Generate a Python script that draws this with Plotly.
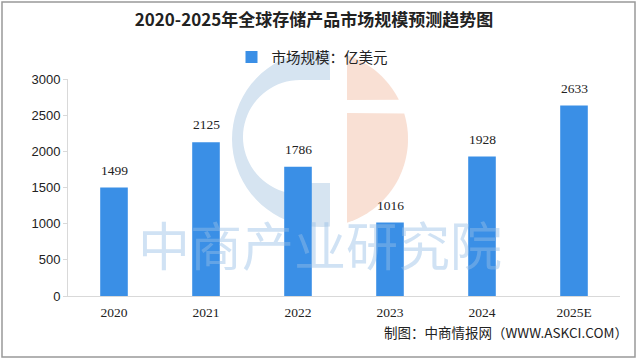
import math
import plotly.graph_objects as go

categories = ["2020", "2021", "2022", "2023", "2024", "2025E"]
values = [1499, 2125, 1786, 1016, 1928, 2633]
y_ticks = [0, 500, 1000, 1500, 2000, 2500, 3000]

title_text = "2020-2025年全球存储产品市场规模预测趋势图"
series_name = "市场规模：亿美元"
source_text = "制图：中商情报网（WWW.ASKCI.COM）"
watermark_text = "中商产业研究院"

bar_color = "#3a8fe6"

# plot area in pixels
L, R, T, B = 68, 620, 79, 296
W, H = R - L, B - T


def px(x):
    return (x - L) / W


def py(y):
    return (B - y) / H


fig = go.Figure()
fig.add_trace(go.Bar(
    x=categories, y=values, name=series_name,
    marker=dict(color=bar_color, line=dict(width=0)),
    width=0.3,
))

# value labels above bars (category index positions)
for i, v in enumerate(values):
    fig.add_annotation(x=i, y=v, text=str(v), showarrow=False, yanchor="bottom", yshift=8,
                       font=dict(family="Liberation Serif, serif", size=13.5, color="#222"))

fig.update_layout(
    width=640, height=361,
    paper_bgcolor="white", plot_bgcolor="rgba(0,0,0,0)",
    margin=dict(l=L, r=640 - R, t=T, b=361 - B, autoexpand=False),
    title=dict(text="<b>" + title_text + "</b>", x=314 / 640, xref="container", xanchor="center",
               y=1 - 20 / 361, yref="container", yanchor="middle",
               font=dict(family="Noto Sans CJK SC", size=17, color="#222")),
    showlegend=True,
    legend=dict(orientation="h", x=px(312), xanchor="center", y=py(57), yanchor="middle",
                font=dict(family="Noto Sans CJK SC", size=14.5, color="#222"),
                bgcolor="rgba(0,0,0,0)", itemwidth=30),
    bargap=0.7,
    xaxis=dict(type="category", range=[-0.5, len(categories) - 0.5],
               showgrid=False, showline=True, linecolor="#d9d9d9", linewidth=1,
               ticks="", ticklabelstandoff=4,
               tickfont=dict(family="Liberation Serif, serif", size=13.5, color="#222")),
    yaxis=dict(range=[0, 3000], tickvals=y_ticks, showgrid=False, showline=True,
               linecolor="#d9d9d9", linewidth=1, ticks="outside", ticklen=4, tickcolor="#d9d9d9",
               tickfont=dict(family="Liberation Sans, Arial", size=13, color="#222"), zeroline=False),
)

# ---- watermark logo (decoration) ----
cx, cy, r = 320, 139, 88


def arc(cx_, cy_, r_, a0, a1, n=40):
    pts = []
    for k in range(n + 1):
        a = math.radians(a0 + (a1 - a0) * k / n)
        pts.append((cx_ + r_ * math.cos(a), cy_ - r_ * math.sin(a)))
    return pts


def path_from(pts):
    return "M " + " L ".join(f"{px(x):.4f},{py(y):.4f}" for x, y in pts) + " Z"


# blue C
blue_right = 330
a_top = math.degrees(math.acos((blue_right - cx) / r))
outer = arc(cx, cy, r, a_top, 360 - a_top)
hcx, hcy, hr = 300, 137, 57
inner = arc(hcx, hcy, hr, 270, 90)
blue_pts = outer + [(blue_right, 183), (hcx, 183)] + inner + [(blue_right, hcy - hr)]
fig.add_shape(type="path", xref="paper", yref="paper", path=path_from(blue_pts),
              fillcolor="#d6e4f1", line=dict(width=0), layer="below")

# peach right half with a gap
peach_left = 347
a_pl = math.degrees(math.acos((peach_left - cx) / r))
gap_top, gap_bot = 100, 113
pts_all = arc(cx, cy, r, -a_pl, a_pl, 60)
upper = [(x, y) for x, y in pts_all if y < gap_top]
lower = [(x, y) for x, y in pts_all if y > gap_bot]
lower_path = [(peach_left, lower[0][1])] + lower + [(peach_left, gap_bot)]
upper_path = [(peach_left, gap_top)] + upper + [(peach_left, upper[-1][1])]
for seg in (lower_path, upper_path):
    fig.add_shape(type="path", xref="paper", yref="paper", path=path_from(seg),
                  fillcolor="#f9e0d4", line=dict(width=0), layer="below")

# watermark text (on top, semi-transparent)
fig.add_annotation(text=watermark_text, xref="paper", yref="paper", x=px(320), y=py(283),
                   showarrow=False, font=dict(family="Noto Sans CJK SC", size=52,
                                              color="rgba(150,190,230,0.45)"))

# source
fig.add_annotation(text=source_text, xref="paper", yref="paper", x=px(630), y=py(332),
                   xanchor="right", yanchor="middle",
                   showarrow=False, font=dict(family="Noto Sans CJK SC", size=13.5, color="#222"))
# border
fig.add_shape(type="rect", xref="paper", yref="paper", x0=px(2), x1=px(635), y0=py(357), y1=py(2),
              line=dict(color="#999", width=1.5), fillcolor="rgba(0,0,0,0)")

fig.write_html("out.html", config={"displayModeBar": False},
               post_script="document.body.style.margin='0';document.body.style.overflow='hidden';")
